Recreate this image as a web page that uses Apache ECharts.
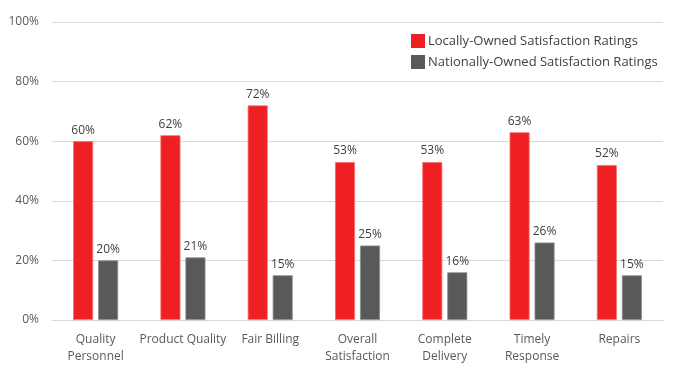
<!DOCTYPE html>
<html><head><meta charset="utf-8">
<script src="https://cdn.jsdelivr.net/npm/echarts@6/dist/echarts.min.js"></script>
<style>html,body{margin:0;padding:0;background:#fff}#c{width:677px;height:379px}</style>
</head><body><div id="c"></div>
<script>
const categories = ["Quality\nPersonnel", "Product Quality", "Fair Billing", "Overall\nSatisfaction", "Complete\nDelivery", "Timely\nResponse", "Repairs"];
const seriesNames = ["Locally-Owned Satisfaction Ratings", "Nationally-Owned Satisfaction Ratings"];
const locallyOwned = [60, 62, 72, 53, 53, 63, 52];
const nationallyOwned = [20, 21, 15, 25, 16, 26, 15];
const yTicks = [0, 20, 40, 60, 80, 100];

const font = "'Open Sans', sans-serif";
const chart = echarts.init(document.getElementById('c'), null, {renderer: 'canvas'});
chart.setOption({
  animation: false,
  textStyle: {fontFamily: font},
  grid: {left: 52, right: 14, top: 22, bottom: 59, containLabel: false},
  legend: {
    orient: 'vertical', left: 411, top: 34, padding: 0, itemWidth: 14, itemHeight: 14, itemGap: 7,
    icon: 'rect',
    itemStyle: {borderWidth: 0},
    textStyle: {fontFamily: font, fontSize: 13, color: '#404040', padding: [0, 0, 0, -2]},
    data: seriesNames
  },
  xAxis: {
    type: 'category', data: categories,
    axisLine: {lineStyle: {color: '#d9d9d9', width: 1}},
    axisTick: {show: false},
    axisLabel: {interval: 0, color: '#595959', fontFamily: font, fontSize: 12, lineHeight: 17, margin: 11}
  },
  yAxis: {
    type: 'value', min: yTicks[0], max: yTicks[yTicks.length - 1], interval: 20,
    axisLine: {show: false}, axisTick: {show: false},
    splitLine: {lineStyle: {color: '#d9d9d9', width: 1}},
    axisLabel: {color: '#595959', fontFamily: font, fontSize: 12, margin: 13, formatter: '{value}%'}
  },
  series: [
    {
      name: seriesNames[0], type: 'bar', data: locallyOwned, barWidth: 20, barGap: '25%',
      itemStyle: {color: '#ee2024', borderColor: '#f4706f', borderWidth: 0.8},
      label: {show: true, position: 'top', distance: 5, formatter: '{c}%', color: '#404040', fontFamily: font, fontSize: 12}
    },
    {
      name: seriesNames[1], type: 'bar', data: nationallyOwned, barWidth: 20,
      itemStyle: {color: '#595959', borderColor: '#8c8c8c', borderWidth: 0.8},
      label: {show: true, position: 'top', distance: 5, formatter: '{c}%', color: '#404040', fontFamily: font, fontSize: 12}
    }
  ]
});
</script></body></html>
